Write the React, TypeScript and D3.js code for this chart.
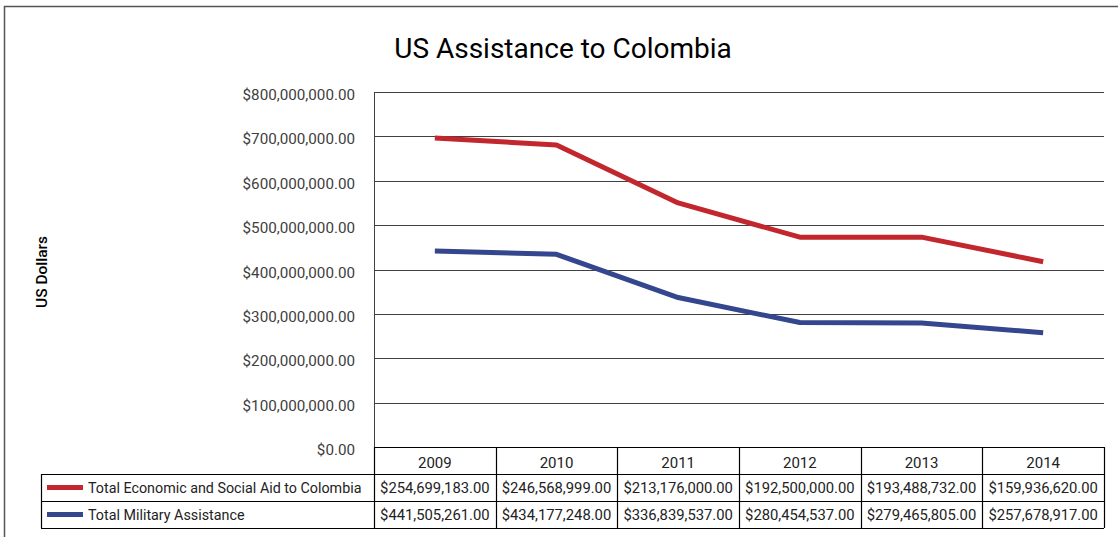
import React from "react";
import * as d3 from "d3";

const years = ["2009", "2010", "2011", "2012", "2013", "2014"];
const economic = [254699183, 246568999, 213176000, 192500000, 193488732, 159936620];
const military = [441505261, 434177248, 336839537, 280454537, 279465805, 257678917];
const yTicks = [0, 100000000, 200000000, 300000000, 400000000, 500000000, 600000000, 700000000, 800000000];
const seriesNames = ["Total Economic and Social Aid to Colombia", "Total Military Assistance"];
const seriesColors = ["#C1272D", "#34468E"];

const W = 1118;
const H = 537;
const FONT = "Roboto, 'DejaVu Sans', sans-serif";

export default function App() {
  const left = 374, right = 1104, top = 92, bottom = 447;
  const tableLeft = 41;
  const rowH = 27;
  const x = d3.scaleBand<string>().domain(years).range([left, right]).padding(0);
  const y = d3.scaleLinear().domain([0, 800000000]).range([bottom, top]);
  const fmt = d3.format("$,.2f");

  const rows = years.map((yr, i) => ({ year: yr, military: military[i], economic: economic[i] }));
  const stack = d3.stack<any>().keys(["military", "economic"]);
  const stacked = stack(rows);
  const line = d3
    .line<any>()
    .x((d) => (x(d.data.year) as number) + x.bandwidth() / 2)
    .y((d) => y(d[1]));

  const econPath = line(stacked[1] as any) || "";
  const milPath = line(stacked[0] as any) || "";

  const tableValues = [economic, military];

  return (
    <svg
      width={W}
      height={H}
      style={{ position: "absolute", left: 0, top: 0, background: "#fff" }}
      fontFamily={FONT}
    >
      <rect x={0} y={0} width={W} height={H} fill="#fff" />
      <rect x={4.5} y={6.5} width={W + 20} height={H + 20} fill="none" stroke="#555" strokeWidth={1.5} />
      <text x={563} y={58} textAnchor="middle" fontSize={28} fill="#000">
        US Assistance to Colombia
      </text>
      <text
        transform={`translate(47,272) rotate(-90)`}
        textAnchor="middle"
        fontSize={15.5}
        fontWeight={500}
        fill="#000"
      >
        US Dollars
      </text>

      {yTicks.map((t) => (
        <g key={t}>
          {t > 0 && (
            <line x1={left} x2={right} y1={Math.round(y(t)) + 0.5} y2={Math.round(y(t)) + 0.5} stroke="#404040" strokeWidth={1} />
          )}
          <text x={355} y={y(t) + 8} textAnchor="end" fontSize={15.2} fill="#404040">
            {fmt(t)}
          </text>
        </g>
      ))}
      <line x1={left + 0.5} x2={left + 0.5} y1={top} y2={bottom} stroke="#404040" strokeWidth={1} />

      <path d={econPath} fill="none" stroke={seriesColors[0]} strokeWidth={5} strokeLinejoin="round" />
      <path d={milPath} fill="none" stroke={seriesColors[1]} strokeWidth={5} strokeLinejoin="round" />

      {/* data table */}
      <g stroke="#000" strokeWidth={1.2} fill="none">
        <line x1={left} x2={right} y1={bottom + 0.5} y2={bottom + 0.5} />
        <line x1={tableLeft} x2={right} y1={bottom + rowH + 0.5} y2={bottom + rowH + 0.5} />
        <line x1={tableLeft} x2={right} y1={bottom + 2 * rowH + 0.5} y2={bottom + 2 * rowH + 0.5} />
        <line x1={tableLeft} x2={right} y1={bottom + 3 * rowH + 0.5} y2={bottom + 3 * rowH + 0.5} />
        <line x1={tableLeft + 0.5} x2={tableLeft + 0.5} y1={bottom + rowH} y2={bottom + 3 * rowH} />
        {years.map((yr) => (
          <line
            key={yr}
            x1={Math.round(x(yr) as number) + 0.5}
            x2={Math.round(x(yr) as number) + 0.5}
            y1={bottom}
            y2={bottom + 3 * rowH}
          />
        ))}
        <line x1={right + 0.5} x2={right + 0.5} y1={bottom} y2={bottom + 3 * rowH} />
      </g>
      {years.map((yr) => (
        <text
          key={yr}
          x={(x(yr) as number) + x.bandwidth() / 2}
          y={bottom + 21}
          textAnchor="middle"
          fontSize={15}
          fill="#222"
        >
          {yr}
        </text>
      ))}
      {seriesNames.map((name, si) => (
        <g key={name}>
          <line
            x1={tableLeft + 6}
            x2={tableLeft + 42}
            y1={bottom + rowH * (si + 1) + 13.5}
            y2={bottom + rowH * (si + 1) + 13.5}
            stroke={seriesColors[si]}
            strokeWidth={5}
          />
          <text x={tableLeft + 47} y={bottom + rowH * (si + 1) + 19} fontSize={14.3} fill="#222">
            {name}
          </text>
          {years.map((yr, i) => (
            <text
              key={yr}
              x={(x(yr) as number) + x.bandwidth() / 2}
              y={bottom + rowH * (si + 1) + 19}
              textAnchor="middle"
              fontSize={14.8}
              fill="#222"
            >
              {fmt(tableValues[si][i])}
            </text>
          ))}
        </g>
      ))}
    </svg>
  );
}
